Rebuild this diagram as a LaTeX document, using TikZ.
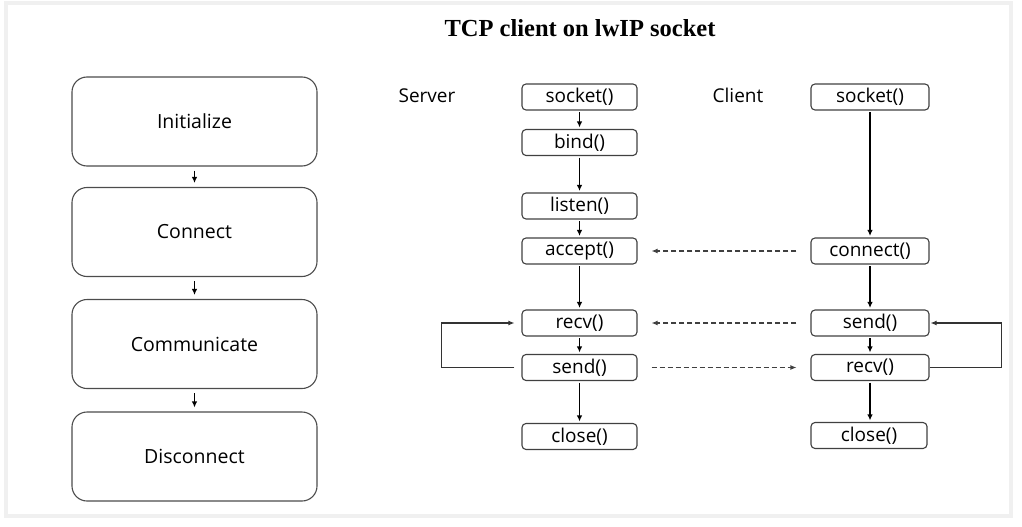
\documentclass[tikz,border=0pt]{standalone}
\usepackage{fontspec}
\setmainfont{Open Sans}
\newfontfamily\titlefont{Liberation Serif}
\usetikzlibrary{arrows.meta}

\begin{document}
\begin{tikzpicture}[x=1pt, y=-1pt,
    stage/.style={draw=black!70, line width=1.1pt, rounded corners=15pt, minimum width=245pt, minimum height=89pt, font=\fontsize{19.5}{22}\selectfont},
    call/.style={draw=black!75, line width=1.1pt, rounded corners=4pt, minimum width=115pt, minimum height=26pt, inner sep=0pt, font=\fontsize{19}{21}\selectfont},
    flow/.style={-{Latex[length=6pt,width=5.5pt]}, line width=1.5pt, shorten <=1.5pt, shorten >=1.5pt},
    msg/.style={-{Latex[length=6pt,width=5pt]}, draw=black!75, line width=1.1pt, dash pattern=on 5pt off 3pt, shorten <=14pt, shorten >=14pt},
    loopback/.style={-{Latex[length=6pt,width=5pt]}, draw=black!80, line width=1.1pt}]
    \useasboundingbox (0,0) rectangle (1022,527);
    \draw[black!6, line width=3.5pt] (6,3) rectangle (1011,516);

    \node[font=\titlefont\bfseries\fontsize{24.5}{28}\selectfont] (title) at (580,28) {TCP client on lwIP socket};

    % stages
    \node[stage] (init) at (194.5,121.5) {Initialize};
    \node[stage] (conn) at (194.5,232) {Connect};
    \node[stage] (comm) at (194.5,344) {Communicate};
    \node[stage] (disc) at (194.5,456.5) {Disconnect};
    \draw[flow, line width=1.2pt, shorten <=4pt, shorten >=4pt] (init) -- (conn);
    \draw[flow, line width=1.2pt, shorten <=4pt, shorten >=4pt] (conn) -- (comm);
    \draw[flow, line width=1.2pt, shorten <=4pt, shorten >=4pt] (comm) -- (disc);

    \node[font=\fontsize{19}{21}\selectfont] (server) at (427,96) {Server};
    \node[font=\fontsize{19}{21}\selectfont] (client) at (738,95) {Client};

    % server
    \node[call] (ssocket) at (579.5,97) {socket()};
    \node[call] (sbind) at (579.5,142.5) {bind()};
    \node[call] (slisten) at (579.5,206) {listen()};
    \node[call] (saccept) at (579.5,251) {accept()};
    \node[call] (srecv) at (579.5,323) {recv()};
    \node[call] (ssend) at (579.5,367.5) {send()};
    \node[call] (sclose) at (579.5,436.5) {close()};
    \draw[flow] (ssocket) -- (sbind);
    \draw[flow] (sbind) -- (slisten);
    \draw[flow] (slisten) -- (saccept);
    \draw[flow] (saccept) -- (srecv);
    \draw[flow] (srecv) -- (ssend);
    \draw[flow] (ssend) -- (sclose);
    \draw[loopback, shorten <=7pt, shorten >=7pt] (ssend.west) -- ++(-80,0) |- (srecv.west);

    % client
    \node[call, minimum width=118pt] (csocket) at (870,97) {socket()};
    \node[call, minimum width=118pt] (cconnect) at (870,251) {connect()};
    \node[call, minimum width=118pt] (csend) at (870,323) {send()};
    \node[call, minimum width=118pt] (crecv) at (870,367.5) {recv()};
    \node[call, minimum width=116pt] (cclose) at (869,435.5) {close()};
    \draw[flow] (csocket) -- (cconnect);
    \draw[flow] (cconnect) -- (csend);
    \draw[flow] (csend) -- (crecv);
    \draw[flow] (crecv) -- (crecv |- cclose.north);
    \draw[loopback, shorten >=1pt] (crecv.east) -- ++(72,0) |- (csend.east);

    % messages
    \draw[msg] (cconnect) -- (saccept);
    \draw[msg] (csend) -- (srecv);
    \draw[msg] (ssend) -- (crecv);
\end{tikzpicture}
\end{document}
